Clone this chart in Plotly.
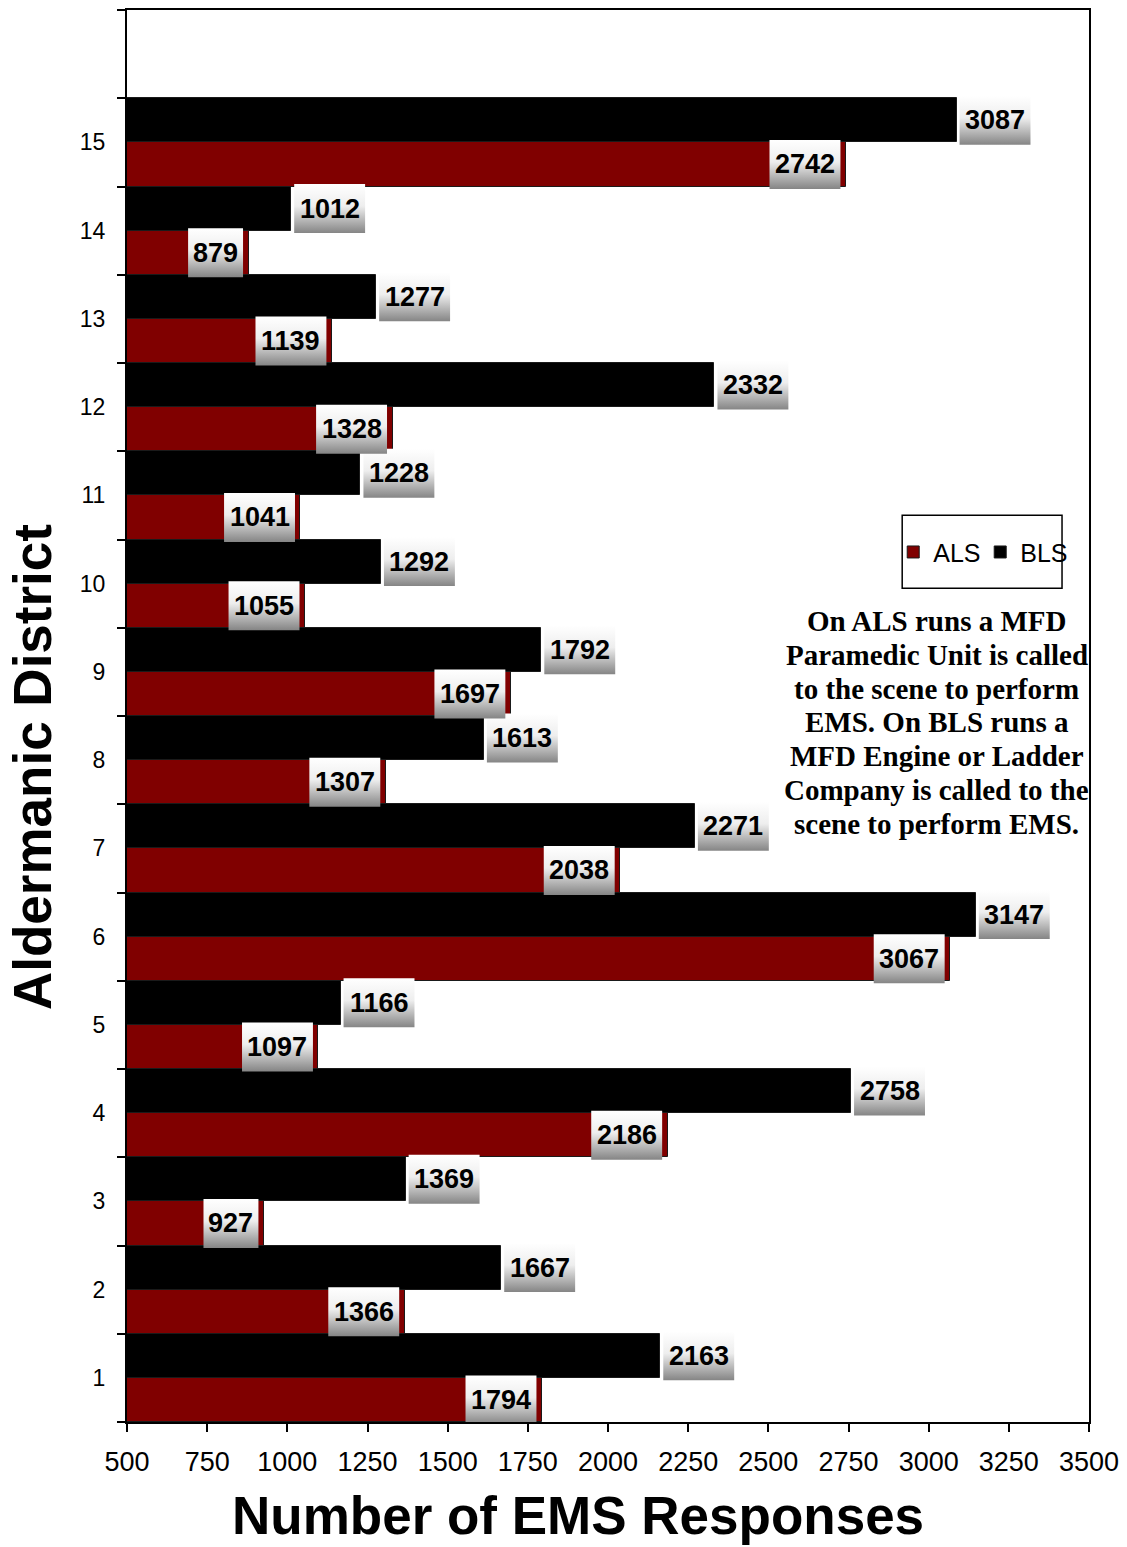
import plotly.graph_objects as go

# EMS responses per aldermanic district
districts = list(range(1, 16))
als = [1794, 1366, 927, 2186, 1097, 3067, 2038, 1307, 1697, 1055, 1041, 1328, 1139, 879, 2742]
bls = [2163, 1667, 1369, 2758, 1166, 3147, 2271, 1613, 1792, 1292, 1228, 2332, 1277, 1012, 3087]
x_ticks = list(range(500, 3501, 250))
note_lines = [
    "On ALS runs a MFD",
    "Paramedic Unit is called",
    "to the scene to perform",
    "EMS. On BLS runs a",
    "MFD Engine or Ladder",
    "Company is called to the",
    "scene to perform EMS.",
]

W, H = 1127, 1547
M_L, M_R, M_T, M_B = 127, 37, 8, 125
X_MIN, X_MAX = 500, 3500
Y_MIN, Y_MAX = 0.5, 16.5
plot_w = W - M_L - M_R
plot_h = H - M_T - M_B
px_x = plot_w / (X_MAX - X_MIN)          # pixels per response
px_y = plot_h / (Y_MAX - Y_MIN)          # pixels per category

ALS_COLOR = "#800000"
BLS_COLOR = "#000000"
SANS = "Liberation Sans, Arial, sans-serif"
SERIF = "Liberation Serif, Times New Roman, serif"

fig = go.Figure()
fig.add_trace(go.Bar(
    name="ALS", y=districts, x=als, orientation="h",
    marker=dict(color=ALS_COLOR, line=dict(color="#1a1a1a", width=1)),
    hoverinfo="skip",
))
fig.add_trace(go.Bar(
    name="BLS", y=districts, x=bls, orientation="h",
    marker=dict(color=BLS_COLOR, line=dict(color="#1a1a1a", width=1)),
    hoverinfo="skip",
))

# gradient label boxes with the value written on them
box_half_h = 24.5 / px_y
label_font = dict(family=SANS, size=27, color="black")
annotations = []


def add_label(value, yc, inside):
    text = str(value)
    w = (16 * len(text) + 7) / px_x
    if inside:
        x1 = value - 5.5 / px_x
        x0 = x1 - w
    else:
        x0 = value + 3 / px_x
        x1 = x0 + w
    y0, y1 = yc - box_half_h, yc + box_half_h
    fig.add_trace(go.Scatter(
        x=[x0, x1, x1, x0, x0], y=[y0, y0, y1, y1, y0],
        mode="lines", line=dict(width=0), fill="toself",
        fillgradient=dict(type="vertical",
                          colorscale=[[0, "#858585"], [0.55, "#eeeeee"], [1, "#ffffff"]]),
        showlegend=False, hoverinfo="skip",
    ))
    annotations.append(dict(
        x=(x0 + x1) / 2, y=yc, xref="x", yref="y", text="<b>%s</b>" % text,
        showarrow=False, font=label_font, xanchor="center", yanchor="middle",
    ))


for d, a, b in zip(districts, als, bls):
    add_label(a, d - 0.25, True)
    add_label(b, d + 0.25, False)

# axis titles
annotations.append(dict(
    x=(578 - M_L) / plot_w, y=-(1516 - M_T - plot_h) / plot_h, xref="paper", yref="paper",
    text="<b>Number of EMS Responses</b>", showarrow=False,
    font=dict(family=SANS, size=53, color="black"), xanchor="center", yanchor="middle",
))
annotations.append(dict(
    x=(33 - M_L) / plot_w, y=(M_T + plot_h - 766) / plot_h, xref="paper", yref="paper",
    text="<b>Aldermanic District</b>", showarrow=False, textangle=-90,
    font=dict(family=SANS, size=53, color="black"), xanchor="center", yanchor="middle",
))

# explanatory note
for i, line in enumerate(note_lines):
    yp = 620 + i * 33.8
    annotations.append(dict(
        x=(937.5 - M_L) / plot_w, y=(M_T + plot_h - yp) / plot_h, xref="paper", yref="paper",
        text="<b>%s</b>" % line, showarrow=False,
        font=dict(family=SERIF, size=29, color="black"), xanchor="center", yanchor="middle",
    ))

# legend frame
shapes = [dict(
    type="rect", xref="paper", yref="paper",
    x0=(903 - M_L) / plot_w, x1=(1063 - M_L) / plot_w,
    y0=(M_T + plot_h - 587) / plot_h, y1=(M_T + plot_h - 514) / plot_h,
    line=dict(color="black", width=1.5), fillcolor="rgba(0,0,0,0)",
)]

fig.update_layout(
    width=W, height=H,
    margin=dict(l=M_L, r=M_R, t=M_T, b=M_B, pad=0),
    paper_bgcolor="white", plot_bgcolor="white",
    barmode="group", bargap=0, bargroupgap=0,
    showlegend=True,
    legend=dict(
        orientation="h", x=(894 - M_L) / plot_w, y=(M_T + plot_h - 551) / plot_h,
        xanchor="left", yanchor="middle", bgcolor="rgba(0,0,0,0)", borderwidth=0,
        font=dict(family=SANS, size=25, color="black"), traceorder="normal",
        itemwidth=30, tracegroupgap=0, entrywidth=42, entrywidthmode="pixels",
    ),
    annotations=annotations,
    shapes=shapes,
    xaxis=dict(
        range=[X_MIN, X_MAX], tickmode="array", tickvals=x_ticks,
        ticks="outside", ticklen=8, tickwidth=2, tickcolor="black",
        ticklabelstandoff=7,
        showline=True, linecolor="black", linewidth=2, mirror=True,
        showgrid=False, zeroline=False,
        tickfont=dict(family=SANS, size=27, color="black"),
    ),
    yaxis=dict(
        range=[Y_MIN, Y_MAX], tickmode="array", tickvals=districts,
        ticktext=[str(d) for d in districts], ticks="",
        ticklabelstandoff=15,
        minor=dict(tickmode="linear", tick0=0.5, dtick=1, ticks="outside",
                   ticklen=8, tickwidth=2, tickcolor="black", showgrid=False),
        showline=True, linecolor="black", linewidth=2, mirror=True,
        showgrid=False, zeroline=False,
        tickfont=dict(family=SANS, size=23, color="black"),
    ),
)

fig.write_html("out.html")
